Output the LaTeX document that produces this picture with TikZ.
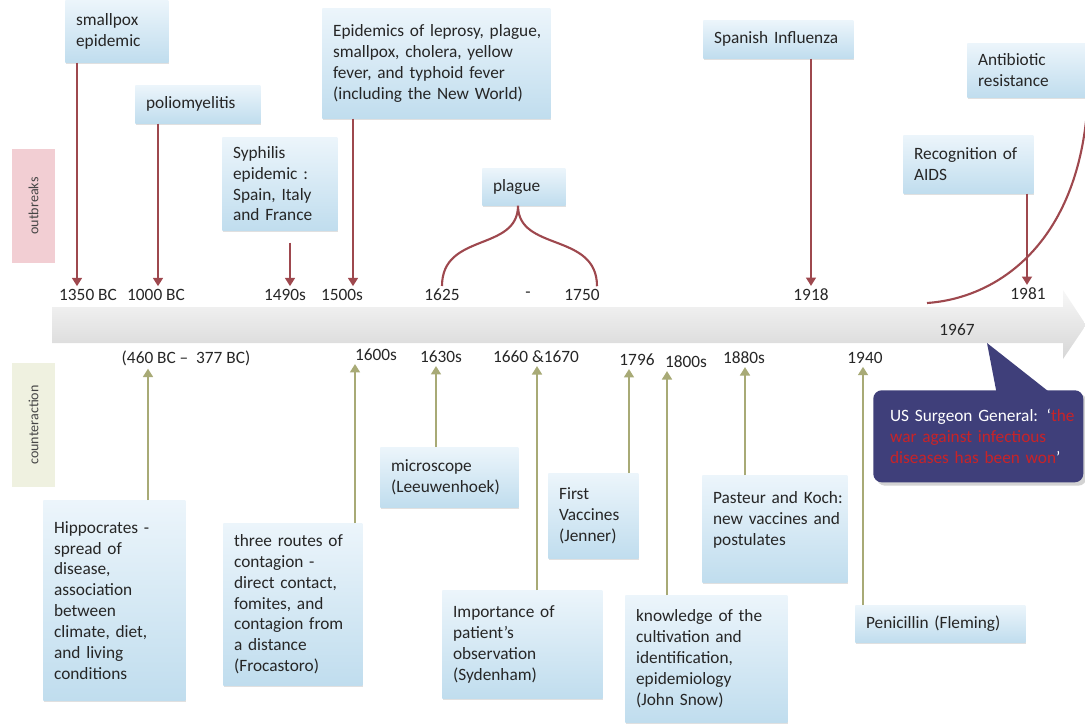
\documentclass[tikz,border=0pt]{standalone}
\usepackage{fontspec}
\setmainfont{Carlito}
\usetikzlibrary{arrows.meta, shadows}

\definecolor{boxtop}{RGB}{236,245,251}
\definecolor{boxbottom}{RGB}{192,221,238}
\definecolor{outbreakred}{RGB}{158,72,78}
\definecolor{counterkhaki}{RGB}{168,170,118}
\definecolor{calloutblue}{RGB}{63,63,122}
\definecolor{warred}{RGB}{200,35,40}
\definecolor{textgrey}{RGB}{38,38,38}

\begin{document}
\begin{tikzpicture}[x=0.025cm, y=-0.025cm, font=\fontsize{12.3pt}{14.8pt}\selectfont, text=textgrey]
				% Setup the styles for the boxes and arrows
				\tikzset{event box/.style={rectangle, anchor=north west, align=left,
											inner xsep=2pt, inner ysep=2pt,
											execute at begin node={\leftskip=0.2cm},
											top color=boxtop, bottom color=boxbottom,
											drop shadow={shadow xshift=0.6pt, shadow yshift=-1.2pt,
														 opacity=0.35, fill=gray!70}},
						 year/.style={inner sep=2pt},
						 side label/.style={rotate=90, minimum height=1.075cm,
											font=\fontsize{10pt}{12pt}\selectfont,
											text=gray!55!black},
						 outbreak arrow/.style={color=outbreakred, line width=1.5pt,
											-{Triangle[width=7pt,length=6pt]}},
						 counter arrow/.style={color=counterkhaki, line width=1.5pt,
											-{Triangle[width=7pt,length=6pt]}},
						 outbreak line/.style={draw=outbreakred, line width=1.5pt}}
				\useasboundingbox (0,0) rectangle (1085,724);
				% Draw the time line
				\shade[top color=gray!6, bottom color=gray!32]
					(52,307) -- (1063,307) -- (1063,290) -- (1086,325)
					-- (1063,359) -- (1063,343) -- (52,343) -- cycle;
				% Draw the side labels
				\node[side label, minimum width=2.825cm, fill={rgb,255:red,242;green,206;blue,211}]
					at (33.5,206) (outbreaks) {outbreaks};
				\node[side label, minimum width=3.1cm, fill={rgb,255:red,239;green,241;blue,224}]
					at (33.5,425) (counter) {counteraction};
				% Draw the outbreaks
				\node[event box, text width=103*0.025cm-4pt, minimum height=1.55cm] at (65,0)    (smallpox)   {smallpox\\epidemic};
				\node[event box, text width=125*0.025cm-4pt, minimum height=0.95cm] at (135,85)  (polio)      {poliomyelitis};
				\node[event box, text width=115*0.025cm-4pt, minimum height=2.325cm] at (222,137) (syphilis)  {Syphilis\\epidemic :\\Spain, Italy\\and France};
				\node[event box, text width=228*0.025cm-4pt, minimum height=2.75cm] at (322,8)   (epidemics)  {Epidemics of leprosy, plague,\\smallpox, cholera, yellow\\fever, and typhoid fever\\(including the New World)};
				\node[event box, text width=83*0.025cm-4pt, minimum height=0.925cm] at (482,168) (plague)     {plague};
				\node[event box, text width=150*0.025cm-4pt, minimum height=0.95cm] at (703,20)  (flu)        {Spanish Influenza};
				\node[event box, text width=125*0.025cm-4pt, minimum height=1.35cm] at (967,43)  (antibiotic) {Antibiotic\\resistance};
				\node[event box, text width=130*0.025cm-4pt, minimum height=1.45cm] at (903,135) (aids)       {Recognition of\\AIDS};
				% Draw the counteractions
				\node[event box, text width=142*0.025cm-4pt, minimum height=5.0cm]   at (43,500)  (hippocrates) {Hippocrates -\\spread of\\disease,\\association\\between\\climate, diet,\\and living\\conditions};
				\node[event box, text width=139*0.025cm-4pt, minimum height=4.05cm]  at (223,523) (routes)     {three routes of\\contagion -\\direct contact,\\fomites, and\\contagion from\\a distance\\(Frocastoro)};
				\node[event box, text width=138*0.025cm-4pt, minimum height=1.5cm]   at (380,447) (microscope) {microscope\\(Leeuwenhoek)};
				\node[event box, text width=160*0.025cm-4pt, minimum height=2.7cm]   at (442,590) (sydenham)   {Importance of\\patient’s\\observation\\(Sydenham)};
				\node[event box, text width=90*0.025cm-4pt, minimum height=2.125cm]  at (548,473) (jenner)     {First\\Vaccines\\(Jenner)};
				\node[event box, text width=162*0.025cm-4pt, minimum height=3.175cm] at (625,595) (snow)       {knowledge of the\\cultivation and\\identification,\\epidemiology\\(John Snow)};
				\node[event box, text width=145*0.025cm-4pt, minimum height=2.675cm] at (702,475) (pasteur)    {Pasteur and Koch:\\new vaccines and\\postulates\\ \mbox{}};
				\node[event box, text width=170*0.025cm-4pt, minimum height=0.925cm] at (855,605) (penicillin) {Penicillin (Fleming)};
				% Draw the years
				\node[year] at (88,295)   (y1350) {1350 BC};
				\node[year] at (156,295)  (y1000) {1000 BC};
				\node[year] at (285,295)  (y1490) {1490s};
				\node[year] at (342,295)  (y1500) {1500s};
				\node[year] at (442,295)  (y1625) {1625};
				\node[year] at (528,295)  (ydash) {-};
				\node[year] at (582,295)  (y1750) {1750};
				\node[year] at (811,295)  (y1918) {1918};
				\node[year] at (1028,294) (y1981) {1981};
				\node[year] at (957,330)  (y1967) {1967};
				\node[year] at (186,358)  (yhipp) {(460 BC –\ \ 377 BC)};
				\node[year] at (376,355)  (y1600) {1600s};
				\node[year] at (441,357)  (y1630) {1630s};
				\node[year] at (536,357)  (y1660) {1660 \&1670};
				\node[year] at (637,360)  (y1796) {1796};
				\node[year] at (686,362)  (y1800) {1800s};
				\node[year] at (744,358)  (y1880) {1880s};
				\node[year] at (865,358)  (y1940) {1940};
				% Connect the outbreaks with the years
				\path[outbreak arrow]
					(smallpox.south -| 77,0)   edge (y1350.north -| 77,0)
					(polio.south -| 158,0)     edge (y1000.north -| 158,0)
					(syphilis.south -| 290,0)  edge[shorten <=0.3cm] (y1490.north -| 290,0)
					(epidemics.south -| 353,0) edge (y1500.north -| 353,0)
					(flu.south -| 811,0)       edge (y1918.north -| 811,0)
					(aids.south -| 1027,0)     edge (y1981.north -| 1027,0);
				\draw[outbreak line]
					(y1625.north) .. controls (442,232) and (518,252) .. (plague.south -| 518,0)
					(y1750.north -| 597,0) .. controls (597,232) and (518,252) .. (plague.south -| 518,0);
				\coordinate (c1967) at (927,303);
				\coordinate (resist) at (1088,95);
				\draw[outbreak line] (c1967) .. controls (1000,298) and (1082,240) .. (resist);
				% Connect the counteractions with the years
				\path[counter arrow]
					(hippocrates.north -| 148,0) edge (yhipp.south -| 148,0)
					(routes.north -| 355,0)      edge (y1600.south -| 355,0)
					(microscope.north -| 436,0)  edge (y1630.south -| 436,0)
					(sydenham.north -| 537,0)    edge (y1660.south -| 537,0)
					(jenner.north -| 629,0)      edge (y1796.south -| 629,0)
					(snow.north -| 667,0)        edge (y1800.south -| 667,0)
					(pasteur.north -| 745,0)     edge (y1880.south -| 745,0)
					(penicillin.north -| 863,0)  edge (y1940.south -| 863,0);
				% Draw the callout
				\node[rectangle, anchor=north west, rounded corners=6pt, fill=calloutblue,
					  text=white, align=left, inner xsep=2pt, text width=210*0.025cm-4pt,
					  execute at begin node={\leftskip=0.35cm},
					  minimum height=2.3cm, drop shadow={opacity=0.35}]
					at (873,390) (surgeon)
					{US Surgeon General: ‘\textcolor{warred}{the}\\
					 \textcolor{warred}{war against infectious}\\
					 \textcolor{warred}{diseases has been won}’};
				\fill[calloutblue] (997,395) -- (987,343) -- (1053,395) -- cycle;
			\end{tikzpicture}
\end{document}
